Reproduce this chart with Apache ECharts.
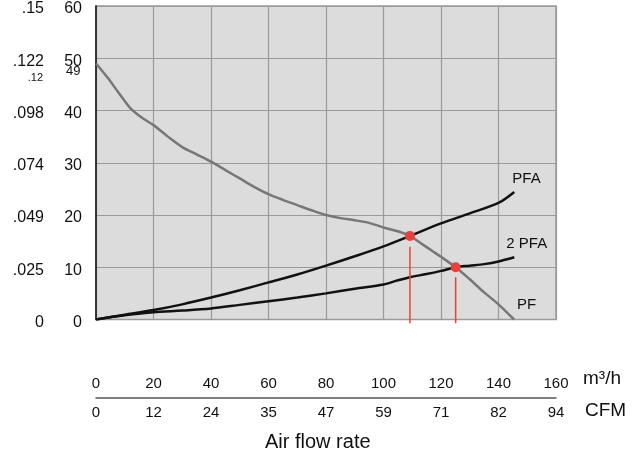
<!DOCTYPE html>
<html>
<head>
<meta charset="utf-8">
<script src="https://cdn.jsdelivr.net/npm/echarts@6/dist/echarts.min.js"></script>
<style>html,body{margin:0;padding:0;background:#fff;}#c{width:637px;height:456px;}</style>
</head>
<body>
<div id="c"></div>
<script>
// m3/h ticks and CFM ticks
const flowTicks = [0, 20, 40, 60, 80, 100, 120, 140, 160];
const cfmTicks = ['0', '12', '24', '35', '47', '59', '71', '82', '94'];
const paTicks = ['0', '10', '20', '30', '40', '50', '60'];
const inchTicks = ['0', '.025', '.049', '.074', '.098', '.122', '.15'];

// PF curve
const pfX = [0, 4, 8, 12, 16, 20, 25, 30, 35, 40, 45, 50, 55, 60, 65, 70, 75, 80, 85, 90, 95, 100, 105, 109.2, 113, 117, 120, 125.1, 130, 135, 140, 145.4];
const pfY = [49.0, 46.3, 43.3, 40.4, 38.6, 37.2, 35.0, 33.0, 31.6, 30.2, 28.6, 27.0, 25.4, 24.0, 22.9, 21.9, 20.9, 20.0, 19.4, 19.0, 18.5, 17.6, 16.9, 16.0, 14.6, 13.1, 12.0, 10.0, 7.7, 5.2, 2.9, 0];

// PFA curve
const pfaX = [0, 10, 20, 30, 40, 50, 60, 70, 80, 90, 100, 109.2, 120, 130, 140, 145.5];
const pfaY = [0, 0.9, 1.8, 2.9, 4.2, 5.6, 7.1, 8.6, 10.3, 12.1, 14.0, 16.0, 18.4, 20.3, 22.3, 24.4];

// 2 PFA curve
const pfa2X = [0, 10, 20, 30, 40, 50, 60, 70, 80, 90, 100, 105, 109.2, 115, 120, 125.1, 130, 135, 140, 145.5];
const pfa2Y = [0, 0.8, 1.4, 1.7, 2.1, 2.8, 3.5, 4.2, 5.0, 5.9, 6.7, 7.5, 8.1, 8.7, 9.3, 10.0, 10.3, 10.6, 11.1, 11.9];

// operating points
const opX = [109.2, 125.1];
const opY = [16.0, 10.0];
// red drop lines: top and bottom values
const dropTop = [13.9, 8.1];
const dropBottom = -0.7;

const zip = (xs, ys) => xs.map((x, i) => [x, ys[i]]);
const FONT = 'Arial, "Liberation Sans", Helvetica, sans-serif';

const chart = echarts.init(document.getElementById('c'), null, {renderer: 'canvas'});
const dropSeries = opX.map((x, i) => ({
  type: 'line', data: [[x, dropTop[i]], [x, dropBottom]], clip: false,
  symbol: 'none', silent: true, z: 3,
  lineStyle: {color: '#e8413c', width: 1.5}
}));

chart.setOption({
  animation: false,
  textStyle: {fontFamily: FONT},
  grid: {left: 96, right: 81, top: 6, bottom: 136.5, show: true,
         backgroundColor: '#dcdcdc', borderColor: '#9a9a9a', borderWidth: 1.5,
         outerBoundsMode: 'none'},
  xAxis: [
    {type: 'value', min: 0, max: 160, interval: 20, position: 'bottom', offset: 78,
     axisLine: {show: true, onZero: false, lineStyle: {color: '#555', width: 1.5}},
     axisTick: {show: false},
     splitLine: {show: true, lineStyle: {color: '#9a9a9a', width: 1.2}},
     axisLabel: {inside: true, margin: 6, fontSize: 15, color: '#111', fontFamily: FONT,
                 formatter: v => String(flowTicks[Math.round(v / 20)])}},
    {type: 'value', min: 0, max: 160, interval: 20, position: 'bottom', offset: 78,
     axisLine: {show: false}, axisTick: {show: false}, splitLine: {show: false},
     axisLabel: {margin: 8, fontSize: 15, color: '#111', fontFamily: FONT,
                 formatter: v => cfmTicks[Math.round(v / 20)]}}
  ],
  yAxis: [
    {type: 'value', min: 0, max: 60, interval: 10, position: 'left', offset: 0,
     axisLine: {show: false}, axisTick: {show: false},
     splitLine: {show: true, lineStyle: {color: '#9a9a9a', width: 1.2}},
     axisLabel: {margin: 14, fontSize: 16, color: '#111', fontFamily: FONT,
                 verticalAlign: 'top', lineHeight: 6,
                 formatter: v => paTicks[Math.round(v / 10)]}},
    {type: 'value', min: 0, max: 60, interval: 10, position: 'left', offset: 43,
     axisLine: {show: true, lineStyle: {color: '#111', width: 1.5}}, axisTick: {show: false},
     splitLine: {show: false},
     axisLabel: {margin: 9, fontSize: 16, color: '#111', fontFamily: FONT,
                 verticalAlign: 'top', lineHeight: 6,
                 formatter: v => inchTicks[Math.round(v / 10)]}}
  ],
  series: [
    {type: 'line', name: 'PF', data: zip(pfX, pfY), smooth: 0.3, symbol: 'none', z: 2,
     lineStyle: {color: '#777777', width: 2.5},
     endLabel: {show: true, formatter: 'PF', offset: [-5, -15], fontSize: 15, color: '#111', fontFamily: FONT}},
    {type: 'line', name: 'PFA', data: zip(pfaX, pfaY), smooth: 0.3, symbol: 'none', z: 2,
     lineStyle: {color: '#111111', width: 2.5},
     endLabel: {show: true, formatter: 'PFA', offset: [-10, -13], fontSize: 15, color: '#111', fontFamily: FONT}},
    {type: 'line', name: '2 PFA', data: zip(pfa2X, pfa2Y), smooth: 0.3, symbol: 'none', z: 2,
     lineStyle: {color: '#111111', width: 2.5},
     endLabel: {show: true, formatter: '2 PFA', offset: [-16, -13], fontSize: 15, color: '#111', fontFamily: FONT}},
    ...dropSeries,
    {type: 'scatter', data: zip(opX, opY), symbolSize: 10, z: 5,
     itemStyle: {color: '#e8413c', opacity: 1}}
  ],
  graphic: [
    {type: 'text', left: 583, top: 369, style: {text: 'm³/h', font: '19px ' + FONT, fill: '#111'}},
    {type: 'text', left: 585, top: 401, style: {text: 'CFM', font: '19px ' + FONT, fill: '#111'}},
    {type: 'text', left: 265, top: 432, style: {text: 'Air flow rate', font: '20px ' + FONT, fill: '#111'}},
    {type: 'text', right: 637 - 43, top: 72, style: {text: '.12', font: '11px ' + FONT, fill: '#111', align: 'right'}},
    {type: 'text', left: 66, top: 65, style: {text: '49', font: '13px ' + FONT, fill: '#111'}}
  ]
});
</script>
</body>
</html>
